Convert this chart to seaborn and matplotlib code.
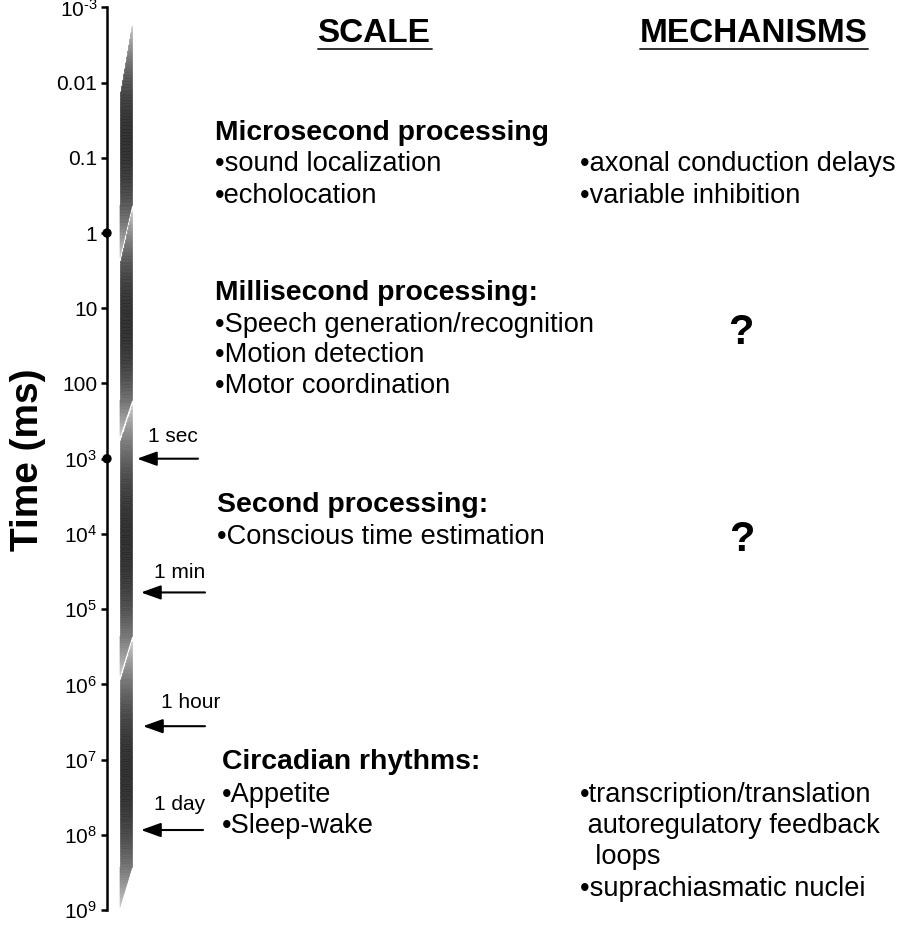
import numpy as np
import matplotlib
matplotlib.use("Agg")
import matplotlib.pyplot as plt
from matplotlib.collections import PolyCollection
from matplotlib.ticker import NullLocator
import seaborn as sns

sns.set_theme(style="white")
plt.rcParams['font.family'] = ['Liberation Sans', 'DejaVu Sans']
plt.rcParams['mathtext.fontset'] = 'custom'
plt.rcParams['mathtext.rm'] = 'Liberation Sans'
plt.rcParams['mathtext.it'] = 'Liberation Sans:italic'
plt.rcParams['mathtext.bf'] = 'Liberation Sans:bold'
plt.rcParams['text.color'] = 'black'
plt.rcParams['axes.labelcolor'] = 'black'
plt.rcParams['ytick.color'] = 'black'

# --- data -------------------------------------------------------------
tick_exp = np.arange(-3, 10)
tick_labels = [r'$\mathregular{10^{\text{-}3}}$', '0.01', '0.1', '1', '10', '100',
               r'$\mathregular{10^{3}}$', r'$\mathregular{10^{4}}$', r'$\mathregular{10^{5}}$',
               r'$\mathregular{10^{6}}$', r'$\mathregular{10^{7}}$', r'$\mathregular{10^{8}}$',
               r'$\mathregular{10^{9}}$']
dot_ms = [1, 1e3]

# the four shaded bands (log10 of ms at their corners)
band_top_right = [-2.77, -0.31, 2.29, 5.43]
band_top_left = [-1.84, 0.39, 2.77, 5.94]
band_bot_right = [-0.37, 2.22, 5.36, 8.43]
band_bot_left = [0.32, 2.70, 5.88, 8.96]

arrow_ms = [1e3, 6e4, 3.6e6, 8.64e7]
arrow_labels = ['1 sec', '1 min', '1 hour', '1 day']

W, H = 917, 926
fig = plt.figure(figsize=(W / 100, H / 100), dpi=100)
ax = fig.add_axes([107 / W, 1 - 910 / H, (W - 107) / W, (910 - 7.4) / H])
ax.set_yscale('log')
ax.set_ylim(1e9, 1e-3)
ax.set_xlim(0, W - 107)


def put(x, y, s, **kw):
    # place text at pixel position of the figure
    fig.text(x / W, 1 - y / H, s, color='black', **kw)


# --- gradient bands ---------------------------------------------------
XL, XR = 13, 25
polys, cols = [], []
for tr, tl, br, bl in zip(band_top_right, band_top_left, band_bot_right, band_bot_left):
    u = np.unique(np.concatenate([np.linspace(tr, bl, 160), [tl, br]]))

    def xl(v):
        return np.where(v < tl, XR - (XR - XL) * (v - tr) / (tl - tr), XL)

    def xr(v):
        return np.where(v > br, XR - (XR - XL) * (v - br) / (bl - br), XR)

    for u0, u1 in zip(u[:-1], u[1:]):
        t = ((u0 + u1) / 2 - tr) / (bl - tr)
        g = 0.17 + 0.62 * abs(2 * t - 1) ** 2.2
        polys.append([(xl(u0), 10 ** u0), (xr(u0), 10 ** u0),
                      (xr(u1), 10 ** u1), (xl(u1), 10 ** u1)])
        cols.append((g, g, g))
pc = PolyCollection(polys, facecolors=cols, edgecolors=cols, linewidths=0.4)
ax.add_collection(pc)

# --- axis -------------------------------------------------------------
ax.set_yticks(10.0 ** tick_exp)
ax.set_yticklabels(tick_labels)
ax.yaxis.set_minor_locator(NullLocator())
ax.tick_params(axis='y', left=True, length=4, width=1.8, pad=3, labelsize=15, colors='black')
ax.set_xticks([])
sns.despine(ax=ax, top=True, right=True, bottom=True)
ax.spines['left'].set_linewidth(1.8)
ax.spines['left'].set_color('black')
sns.scatterplot(x=[0] * len(dot_ms), y=dot_ms, color='black', s=45, ax=ax, clip_on=False,
                zorder=5, edgecolor='none')

ax.set_ylabel('Time (ms)', fontsize=28, fontweight='bold', va='center', color='black')
ax.yaxis.set_label_coords((28 - 107) / (W - 107), (910 - 460) / (910 - 7.4))

# --- arrows -----------------------------------------------------------
tails = [91, 98, 98, 96]
tips = [30, 34, 36, 34]
label_xy = [(173, 437), (180, 573), (191, 702), (180, 805)]
for ms, lab, x0, x1, (lx, ly) in zip(arrow_ms, arrow_labels, tails, tips, label_xy):
    ax.annotate('', xy=(x1, ms), xytext=(x0, ms),
                arrowprops=dict(arrowstyle='-|>,head_length=1.0,head_width=0.36',
                                color='black', lw=1.5, shrinkA=0, shrinkB=0))
    put(lx, ly, lab, fontsize=15, ha='center', va='center')

# --- headers ----------------------------------------------------------
put(374, 34, 'SCALE', fontsize=24, fontweight='bold', ha='center', va='center')
put(754, 34, 'MECHANISMS', fontsize=24, fontweight='bold', ha='center', va='center')
fig.add_artist(plt.Line2D([318 / W, 432 / W], [1 - 49 / H] * 2, color='#333333', lw=1.4))
fig.add_artist(plt.Line2D([640 / W, 868 / W], [1 - 49 / H] * 2, color='#333333', lw=1.4))

# --- text blocks ------------------------------------------------------
fs = 19.6
fb = 20.4
put(215, 133, 'Microsecond processing', fontsize=fb, fontweight='bold', va='center')
put(215, 164, '•sound localization', fontsize=fs, va='center')
put(215, 196, '•echolocation', fontsize=fs, va='center')
put(580, 164, '•axonal conduction delays', fontsize=fs, va='center')
put(580, 196, '•variable inhibition', fontsize=fs, va='center')

put(215, 293, 'Millisecond processing:', fontsize=fb, fontweight='bold', va='center')
put(215, 325, '•Speech generation/recognition', fontsize=fs, va='center')
put(215, 355, '•Motion detection', fontsize=fs, va='center')
put(215, 386, '•Motor coordination', fontsize=fs, va='center')
put(741, 333, '?', fontsize=30, fontweight='bold', ha='center', va='center')

put(217, 505, 'Second processing:', fontsize=fb, fontweight='bold', va='center')
put(217, 537, '•Conscious time estimation', fontsize=fs, va='center')
put(742, 540, '?', fontsize=30, fontweight='bold', ha='center', va='center')

put(222, 762, 'Circadian rhythms:', fontsize=fb, fontweight='bold', va='center')
put(222, 795, '•Appetite', fontsize=fs, va='center')
put(222, 826, '•Sleep-wake', fontsize=fs, va='center')
put(580, 795, '•transcription/translation', fontsize=fs, va='center')
put(580, 826, ' autoregulatory feedback', fontsize=fs, va='center')
put(580, 857, '  loops', fontsize=fs, va='center')
put(580, 889, '•suprachiasmatic nuclei', fontsize=fs, va='center')

fig.savefig('out.png', dpi=100, facecolor='white')
